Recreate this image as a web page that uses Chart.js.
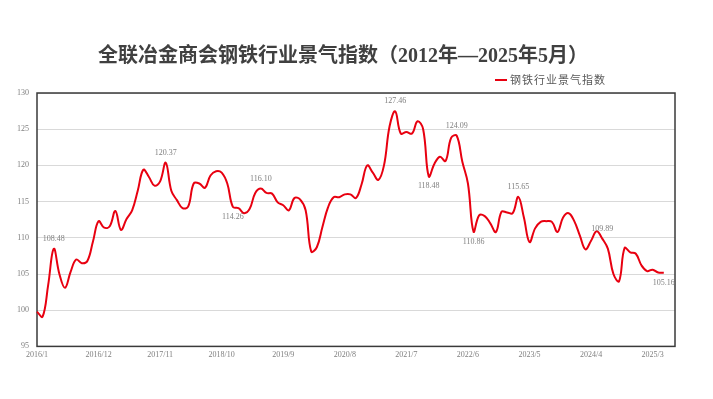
<!DOCTYPE html>
<html>
<head>
<meta charset="utf-8">
<script src="https://cdn.jsdelivr.net/npm/chart.js@4"></script>
<style>
  body { margin: 0; background: #fff; }
</style>
</head>
<body>
<canvas id="steelChart" width="713" height="399"></canvas>
<script>
// monthly categories 2016/1 .. 2025/7 (axis runs two months past the last value)
var months = [];
for (var y = 2016; y <= 2025; y++) {
  for (var m = 1; m <= 12; m++) {
    if (y === 2025 && m > 7) break;
    months.push(y + '/' + m);
  }
}

var tickLabels = ['2016/1', '2016/12', '2017/11', '2018/10', '2019/9', '2020/8',
                  '2021/7', '2022/6', '2023/5', '2024/4', '2025/3'];

// 钢铁行业景气指数, 2016/1 .. 2025/5
var indexValues = [
  99.8, 99.1, 103.5, 108.48, 105.0, 103.1, 105.3, 107.0, 106.5, 106.8, 109.5, 112.3,
  111.4, 111.6, 113.7, 111.1, 112.6, 113.8, 116.5, 119.4, 118.4, 117.2, 117.8, 120.37,
  116.5, 115.2, 114.1, 114.3, 117.5, 117.5, 116.9, 118.6, 119.2, 119.0, 117.5, 114.26,
  114.1, 113.4, 114.0, 116.2, 116.8, 116.2, 116.1, 114.9, 114.5, 113.8, 115.5, 115.3,
  113.8, 108.1, 108.7, 111.5, 114.2, 115.6, 115.6, 116.0, 116.0, 115.5, 117.4, 120.0,
  119.0, 118.0, 120.0, 125.4, 127.46, 124.4, 124.6, 124.4, 126.1, 125.0, 118.48, 120.2,
  121.2, 120.6, 123.8, 124.09, 120.5, 117.5, 110.86, 113.1, 113.0, 112.0, 110.8, 113.6,
  113.5, 113.4, 115.65, 112.8, 109.4, 111.3, 112.2, 112.3, 112.2, 110.8, 112.8, 113.4,
  112.3, 110.3, 108.4, 109.6, 110.9, 109.89, 108.5, 105.0, 104.0, 108.6, 108.0, 107.8,
  106.2, 105.4, 105.6, 105.2, 105.16
];

// annotated points
var noteIndex = [3, 23, 35, 40, 64, 70, 75, 78, 86, 101, 112];
var noteText = ['108.48', '120.37', '114.26', '116.10', '127.46', '118.48',
                '124.09', '110.86', '115.65', '109.89', '105.16'];
var noteAbove = [true, true, false, true, true, false, true, false, true, true, false];

var lineColor = 'rgb(232, 0, 16)';
var serif = "'Liberation Serif', 'Noto Sans CJK SC', serif";

var framePlugin = {
  id: 'frame',
  beforeDatasetsDraw: function (chart) {
    var a = chart.chartArea, ctx = chart.ctx;
    ctx.save();
    ctx.strokeStyle = '#3a3a3a';
    ctx.lineWidth = 1.5;
    ctx.strokeRect(a.left, a.top, a.right - a.left, a.bottom - a.top);
    ctx.restore();
  }
};

var notesPlugin = {
  id: 'notes',
  afterDatasetsDraw: function (chart) {
    var ctx = chart.ctx, meta = chart.getDatasetMeta(0);
    ctx.save();
    ctx.font = '8px ' + serif;
    ctx.fillStyle = '#7f7f7f';
    ctx.textAlign = 'center';
    noteIndex.forEach(function (idx, i) {
      var pt = meta.data[idx];
      if (noteAbove[i]) {
        ctx.textBaseline = 'bottom';
        ctx.fillText(noteText[i], pt.x, pt.y - 6);
      } else {
        ctx.textBaseline = 'top';
        ctx.fillText(noteText[i], pt.x, pt.y + 6);
      }
    });
    ctx.restore();
  }
};

var legendPlugin = {
  id: 'topLegend',
  afterDraw: function (chart) {
    var ctx = chart.ctx, a = chart.chartArea;
    var lx = a.right - 180, ly = 80;
    ctx.save();
    ctx.strokeStyle = lineColor;
    ctx.lineWidth = 2;
    ctx.beginPath();
    ctx.moveTo(lx, ly);
    ctx.lineTo(lx + 12, ly);
    ctx.stroke();
    ctx.font = "11px 'Noto Sans CJK SC'";
    ctx.letterSpacing = '1px';
    ctx.fillStyle = '#595959';
    ctx.textBaseline = 'middle';
    ctx.fillText(chart.data.datasets[0].label, lx + 15, ly);
    ctx.restore();
  }
};

var ctx = document.getElementById('steelChart').getContext('2d');
var steelChart = new Chart(ctx, {
  type: 'line',
  data: {
    labels: months,
    datasets: [{
      label: '钢铁行业景气指数',
      data: indexValues,
      borderColor: lineColor,
      borderWidth: 2,
      pointRadius: 0,
      tension: 0.4,
      fill: false
    }]
  },
  options: {
    responsive: false,
    animation: false,
    layout: { padding: { left: 11, right: 38, top: 0, bottom: 35 } },
    plugins: {
      legend: { display: false },
      tooltip: { enabled: false },
      title: {
        display: true,
        text: '全联冶金商会钢铁行业景气指数（2012年—2025年5月）',
        color: '#404040',
        font: { family: serif, size: 20, weight: 'bold' },
        padding: { top: 45, bottom: 24 }
      }
    },
    scales: {
      x: {
        offset: false,
        grid: { display: false, drawTicks: false },
        border: { display: false },
        ticks: {
          autoSkip: false,
          maxRotation: 0,
          minRotation: 0,
          padding: 4,
          color: '#7f7f7f',
          font: { family: serif, size: 8 },
          callback: function (value) {
            var lab = this.getLabelForValue(value);
            return tickLabels.indexOf(lab) >= 0 ? lab : null;
          }
        }
      },
      y: {
        min: 95,
        max: 130,
        afterFit: function (scale) { scale.width = 26; },
        grid: { color: '#d9d9d9', drawTicks: false },
        border: { display: false },
        ticks: {
          stepSize: 5,
          padding: 8,
          color: '#7f7f7f',
          font: { family: serif, size: 8 }
        }
      }
    }
  },
  plugins: [framePlugin, notesPlugin, legendPlugin]
});
</script>
</body>
</html>
